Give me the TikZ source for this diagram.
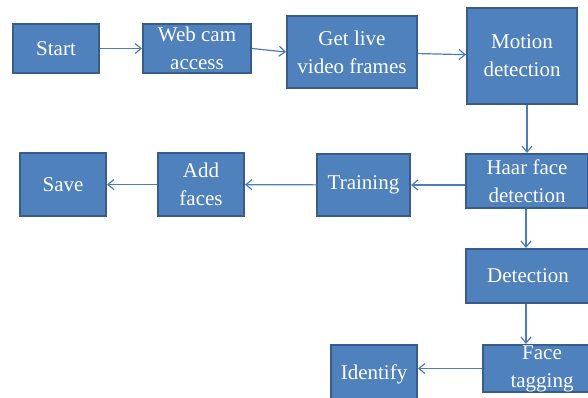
\documentclass[tikz,border=0pt]{standalone}
\usepackage{fontspec}
\setmainfont{Liberation Serif}
\usetikzlibrary{arrows.meta,positioning}
\definecolor{boxfill}{HTML}{4F81BD}
\definecolor{boxline}{HTML}{385D8A}
\definecolor{arrowline}{HTML}{4A7EBB}
\tikzset{
    stepbox/.style={rectangle, draw=boxline, fill=boxfill, line width=2pt, text=white,
                    align=center, inner sep=0pt, font=\fontsize{21}{28}\selectfont},
    edge/.style={draw=arrowline, line width=1.2pt, -{Straight Barb[length=6pt,width=10pt]}}
}

\begin{document}
\begin{tikzpicture}[x=1pt, y=-1pt]
    \clip (0,0) rectangle (588,397);
    % Nodes
    \node[stepbox, minimum width=86, minimum height=49] (start) at (56,48.5) {Start};
    \node[stepbox, minimum width=108, minimum height=49] (webcam) at (197,48.5) {Web cam\\access};
    \node[stepbox, minimum width=130, minimum height=72] (live) at (352,52) {Get live\\video frames};
    \node[stepbox, minimum width=110, minimum height=96] (motion) at (522,56) {Motion\\detection};
    \node[stepbox, minimum width=122, minimum height=54] (haar) at (527,181) {Haar face\\detection};
    \node[stepbox, minimum width=93, minimum height=62] (training) at (363.5,185) {Training};
    \node[stepbox, minimum width=86, minimum height=63] (addfaces) at (201,184.5) {Add\\faces};
    \node[stepbox, minimum width=86, minimum height=63] (save) at (63,184.5) {Save};
    \node[stepbox, minimum width=124, minimum height=54] (detection) at (528,276) {Detection};
    \node[stepbox, minimum width=118, minimum height=47] (tagging) at (542,368.5) {Face\\tagging};
    \node[stepbox, minimum width=86, minimum height=58] (identify) at (374,374) {Identify};

    % edges
    \draw[edge] (start) -- (webcam);
    \draw[edge] (webcam.east) -- (live.west);
    \draw[edge] (live) -- (motion);
    \draw[edge] (haar.north |- motion.south) -- (haar.north);
    \draw[edge] (haar.west |- training.east) -- (training.east);
    \draw[edge] (training) -- (addfaces);
    \draw[edge] (addfaces) -- (save);
    \draw[edge] (haar.south -| detection.north) ++(-2,0) -- ([xshift=-2pt]detection.north);
    \draw[edge] ([xshift=-2pt]detection.south) -- ([xshift=-2pt]detection.south |- tagging.north);
    \draw[edge] (tagging.west) -- (tagging.west -| identify.east);
\end{tikzpicture}
\end{document}
